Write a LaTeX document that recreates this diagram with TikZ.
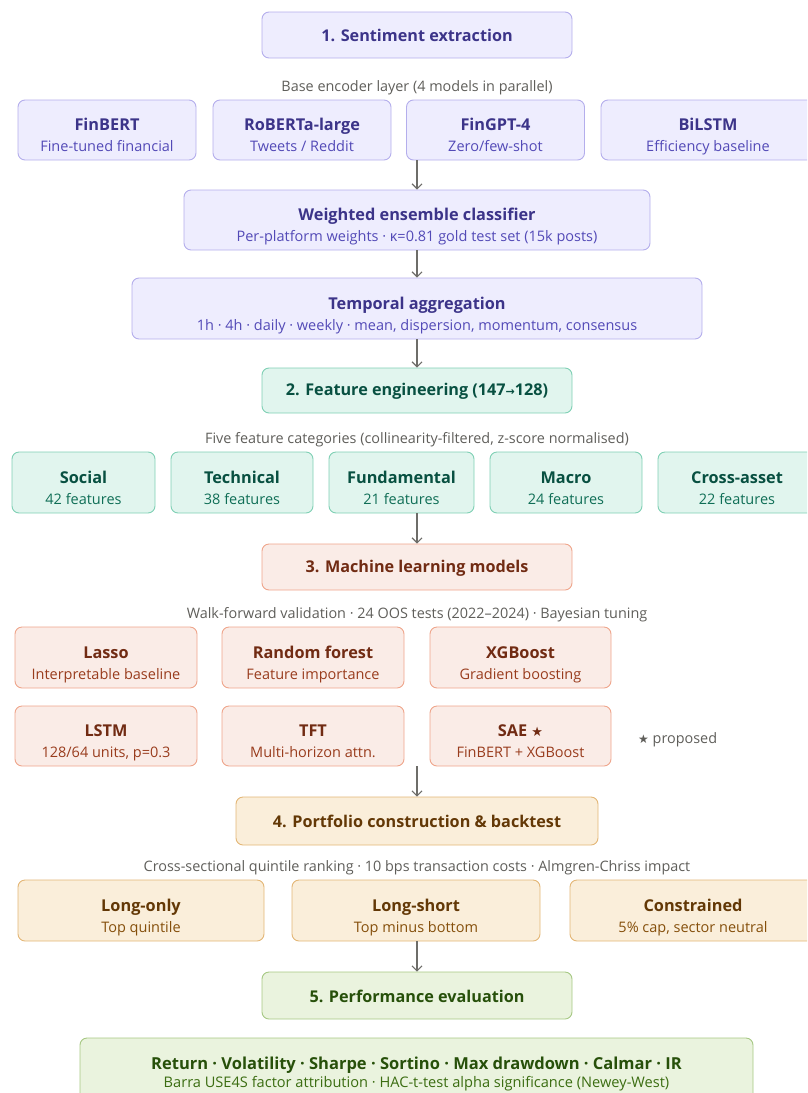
\documentclass[tikz,border=0pt]{standalone}
\usepackage{fontspec}
\setmainfont{Open Sans}
\newfontfamily\symfont{DejaVu Sans}
\usetikzlibrary{arrows.meta}
\definecolor{pBg}{HTML}{EEEDFE}\definecolor{pBd}{HTML}{B4AEEC}\definecolor{pT}{HTML}{3C3489}\definecolor{pS}{HTML}{534AB7}
\definecolor{tBg}{HTML}{E1F5EE}\definecolor{tBd}{HTML}{7FD0B4}\definecolor{tT}{HTML}{085041}\definecolor{tS}{HTML}{0F6E56}
\definecolor{cBg}{HTML}{FAECE7}\definecolor{cBd}{HTML}{EFA58B}\definecolor{cT}{HTML}{712B13}\definecolor{cS}{HTML}{993C1D}
\definecolor{aBg}{HTML}{FAEEDA}\definecolor{aBd}{HTML}{E3B676}\definecolor{aT}{HTML}{633806}\definecolor{aS}{HTML}{854F0B}
\definecolor{gBg}{HTML}{EAF3DE}\definecolor{gBd}{HTML}{A6C883}\definecolor{gT}{HTML}{27500A}\definecolor{gS}{HTML}{3B6D11}
\definecolor{lbl}{HTML}{5F5E5A}\definecolor{arrc}{HTML}{6E6D69}
\newcommand\twol[4]{\textcolor{#1}{\fontsize{16.3}{21}\selectfont\bfseries\rule{0pt}{26pt}#3}\\\textcolor{#2}{\fontsize{14.5}{21}\selectfont\rule[-4pt]{0pt}{4pt}#4}}
\newcommand\onel[2]{\textcolor{#1}{\fontsize{16.2}{19}\selectfont\bfseries\rule[-1.4pt]{0pt}{16pt}#2}}
\tikzset{
  base/.style={rounded corners=7pt, line width=0.9pt, align=center, inner sep=0pt, font=\fontsize{14.5}{21}\selectfont},
  purp/.style={base, draw=pBd, fill=pBg},
  teal/.style={base, draw=tBd, fill=tBg},
  coral/.style={base, draw=cBd, fill=cBg},
  amber/.style={base, draw=aBd, fill=aBg},
  grn/.style={base, draw=gBd, fill=gBg},
  lab/.style={text=lbl, font=\fontsize{14.4}{17}\selectfont, inner sep=0pt},
  arr/.style={draw=arrc, line width=1.1pt, -{Straight Barb[length=5pt,width=10pt]}}
}
\newcommand\lstrut{\rule[-1.8pt]{0pt}{18.5pt}}
\begin{document}
\begin{tikzpicture}[x=1pt,y=-1pt]
\useasboundingbox (0,0) rectangle (807,1093);
\clip (0,0) rectangle (807,1093);
% Section 1
\node[purp, minimum width=310, minimum height=46] (s1) at (417,35) {\onel{pT}{1. Sentiment extraction}};
\node[lab] (l1) at (417,85) {\lstrut Base encoder layer (4 models in parallel)};
\node[purp, minimum width=178, minimum height=60] (finbert) at (107,130) {\twol{pT}{pS}{FinBERT}{Fine-tuned financial}};
\node[purp, minimum width=178, minimum height=60] (roberta) at (302,130) {\twol{pT}{pS}{RoBERTa-large}{Tweets / Reddit}};
\node[purp, minimum width=178, minimum height=60] (fingpt) at (495.5,130) {\twol{pT}{pS}{FinGPT-4}{Zero/few-shot}};
\node[purp, minimum width=214, minimum height=60] (bilstm) at (708,130) {\twol{pT}{pS}{BiLSTM}{Efficiency baseline}};
\node[purp, minimum width=466, minimum height=60] (ens) at (417,220) {\twol{pT}{pS}{Weighted ensemble classifier}{Per-platform weights · κ=0.81 gold test set (15k posts)}};
\node[purp, minimum width=570, minimum height=61] (temp) at (417,308.5) {\twol{pT}{pS}{Temporal aggregation}{1h · 4h · daily · weekly · mean, dispersion, momentum, consensus}};
% Section 2
\node[teal, minimum width=310, minimum height=45] (s2) at (417,390.5) {\onel{tT}{2. Feature engineering (147{\symfont\fontsize{11}{12}\selectfont →}128)}};
\node[lab] (l2) at (417,437) {\lstrut Five feature categories (collinearity-filtered, z-score normalised)};
\node[teal, minimum width=143, minimum height=61] (social) at (83.5,482.5) {\twol{tT}{tS}{Social}{42 features}};
\node[teal, minimum width=142, minimum height=61] (tech) at (242,482.5) {\twol{tT}{tS}{Technical}{38 features}};
\node[teal, minimum width=145, minimum height=61] (fund) at (401.5,482.5) {\twol{tT}{tS}{Fundamental}{21 features}};
\node[teal, minimum width=152, minimum height=61] (macro) at (566,482.5) {\twol{tT}{tS}{Macro}{24 features}};
\node[teal, minimum width=158, minimum height=61] (cross) at (737,482.5) {\twol{tT}{tS}{Cross-asset}{22 features}};
% Section 3
\node[coral, minimum width=310, minimum height=46] (s3) at (417,567) {\onel{cT}{3. Machine learning models}};
\node[lab] (l3) at (417,612) {\lstrut Walk-forward validation · 24 OOS tests (2022–2024) · Bayesian tuning};
\node[coral, minimum width=182, minimum height=61] (lasso) at (106,657.5) {\twol{cT}{cS}{Lasso}{Interpretable baseline}};
\node[coral, minimum width=182, minimum height=61] (rf) at (313,657.5) {\twol{cT}{cS}{Random forest}{Feature importance}};
\node[coral, minimum width=181, minimum height=61] (xgb) at (520.5,657.5) {\twol{cT}{cS}{XGBoost}{Gradient boosting}};
\node[coral, minimum width=182, minimum height=60] (lstm) at (106,736) {\twol{cT}{cS}{LSTM}{128/64 units, p=0.3}};
\node[coral, minimum width=182, minimum height=60] (tft) at (313,736) {\twol{cT}{cS}{TFT}{Multi-horizon attn.}};
\node[coral, minimum width=181, minimum height=60] (sae) at (520.5,736) {\twol{cT}{cS}{SAE {\symfont\fontsize{13}{14}\selectfont ★}}{FinBERT + XGBoost}};
\node[lab, anchor=west] (prop) at (638,737) {\lstrut{\symfont\fontsize{12}{12}\selectfont ★} proposed};
\coordinate (mlout) at (417,766);
% Section 4
\node[amber, minimum width=362, minimum height=48] (s4) at (417,821) {\onel{aT}{4. Portfolio construction \& backtest}};
\node[lab] (l4) at (417,865) {\lstrut Cross-sectional quintile ranking · 10 bps transaction costs · Almgren-Chriss impact};
\node[amber, minimum width=246, minimum height=61] (lo) at (141,910.5) {\twol{aT}{aS}{Long-only}{Top quintile}};
\node[amber, minimum width=248, minimum height=61] (ls) at (416,910.5) {\twol{aT}{aS}{Long-short}{Top minus bottom}};
\node[amber, minimum width=246, minimum height=61] (con) at (693,910.5) {\twol{aT}{aS}{Constrained}{5\% cap, sector neutral}};
% Section 5
\node[grn, minimum width=310, minimum height=47] (s5) at (417,995.5) {\onel{gT}{5. Performance evaluation}};
\node[grn, minimum width=673, minimum height=70, font=\fontsize{14.5}{18}\selectfont] (fin) at (416.5,1073) {\textcolor{gT}{\fontsize{16.5}{18}\selectfont\bfseries\rule{0pt}{15pt}Return · Volatility · Sharpe · Sortino · Max drawdown · Calmar · IR}\\\textcolor{gS}{\fontsize{14.6}{18}\selectfont\rule[-4pt]{0pt}{4pt}Barra USE4S factor attribution · HAC-t-test alpha significance (Newey-West)}};
% Connectors
\draw[arr] (fingpt.south -| ens.north) -- (ens.north);
\draw[arr] (ens.south) -- (temp.north);
\draw[arr] (temp.south) -- (s2.north);
\draw[arr] (fund.south -| s3.north) -- (s3.north);
\draw[arr] (mlout) -- (s4.north);
\draw[arr] (ls.south -| s5.north) -- (s5.north);
\end{tikzpicture}
\end{document}
